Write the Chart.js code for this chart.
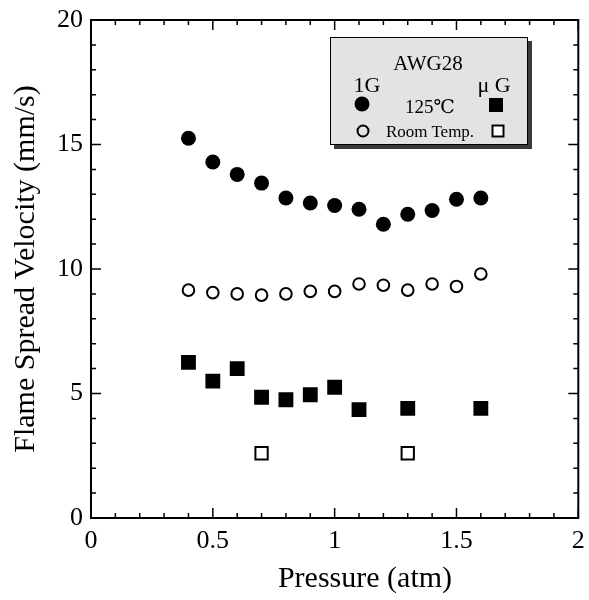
<!DOCTYPE html>
<html>
<head>
<meta charset="utf-8">
<script src="https://cdn.jsdelivr.net/npm/chart.js@4.4.0/dist/chart.umd.min.js"></script>
<style>
body { margin: 0; background: #fff; }
#wrap { position: relative; width: 589px; height: 600px; font-family: "Liberation Serif", "DejaVu Serif", serif; color: #000; }
#chart { position: absolute; left: 0; top: 0; }
.c { position: absolute; transform: translate(-50%, -50%); white-space: nowrap; line-height: 1; }
#xtitle { left: 365px; top: 577px; font-size: 30px; }
#key { position: absolute; left: 330px; top: 37px; width: 198px; height: 108px; box-sizing: border-box;
       border: 1.5px solid #000; background: #e3e3e3; box-shadow: 4px 4px 0 #3a3a3a; }
.dot { position: absolute; transform: translate(-50%, -50%); box-sizing: border-box; }
</style>
</head>
<body>
<div id="wrap">
  <canvas id="chart" width="589" height="600"></canvas>
  <div id="xtitle" class="c">Pressure (atm)</div>
  <div id="key">
    <div class="c" style="left:97px;top:25px;font-size:21px;">AWG28</div>
    <div class="c" style="left:36px;top:47px;font-size:22px;">1G</div>
    <div class="c" style="left:163px;top:47px;font-size:22px;">μ G</div>
    <div class="dot" style="left:31px;top:66px;width:15px;height:15px;border-radius:50%;background:#000;"></div>
    <div class="c" style="left:99px;top:68px;font-size:19px;">125℃</div>
    <div class="dot" style="left:165px;top:67px;width:14px;height:14px;background:#000;"></div>
    <div class="dot" style="left:32px;top:93px;width:13px;height:13px;border-radius:50%;border:2px solid #000;"></div>
    <div class="c" style="left:99px;top:93px;font-size:17px;">Room Temp.</div>
    <div class="dot" style="left:167px;top:93px;width:13px;height:13px;border:2px solid #000;background:#fff;"></div>
  </div>
</div>
<script>
// 1G series, measured at every pressure
const pressure1G = [0.4, 0.5, 0.6, 0.7, 0.8, 0.9, 1.0, 1.1, 1.2, 1.3, 1.4, 1.5, 1.6];
const hot1G = [15.25, 14.3, 13.8, 13.45, 12.85, 12.65, 12.55, 12.4, 11.8, 12.2, 12.35, 12.8, 12.85];
const room1G = [9.15, 9.05, 9.0, 8.95, 9.0, 9.1, 9.1, 9.4, 9.35, 9.15, 9.4, 9.3, 9.8];

// microgravity series
const pressureHotMuG = [0.4, 0.5, 0.6, 0.7, 0.8, 0.9, 1.0, 1.1, 1.3, 1.6];
const hotMuG = [6.25, 5.5, 6.0, 4.85, 4.75, 4.95, 5.25, 4.35, 4.4, 4.4];
const pressureRoomMuG = [0.7, 1.3];
const roomMuG = [2.6, 2.6];

const xMin = 0, xMax = 2, xStep = 0.5, xMinor = 0.1;
const yMin = 0, yMax = 20, yStep = 5, yMinor = 1;

const serif = "'Liberation Serif', 'DejaVu Serif', serif";

function toPoints(xs, ys) {
    return xs.map((p, i) => ({ x: p, y: ys[i] }));
}

// plain numbers: 0, 0.5, 1 ...
function plainLabel(value) {
    return String(parseFloat(Number(value).toFixed(2)));
}

// inward ticks on all four sides plus the frame
const frameTicks = {
    id: 'frameTicks',
    afterDraw(chart) {
        const ctx = chart.ctx;
        const a = chart.chartArea;
        const x = chart.scales.x;
        const y = chart.scales.y;
        ctx.save();
        ctx.strokeStyle = '#000';
        ctx.lineWidth = 1.5;
        ctx.beginPath();
        const nx = Math.round((xMax - xMin) / xMinor);
        for (let i = 0; i <= nx; i++) {
            const px = x.getPixelForValue(xMin + i * xMinor);
            const len = i % Math.round(xStep / xMinor) === 0 ? 10 : 5;
            ctx.moveTo(px, a.bottom); ctx.lineTo(px, a.bottom - len);
            ctx.moveTo(px, a.top); ctx.lineTo(px, a.top + len);
        }
        const ny = Math.round((yMax - yMin) / yMinor);
        for (let i = 0; i <= ny; i++) {
            const py = y.getPixelForValue(yMin + i * yMinor);
            const len = i % Math.round(yStep / yMinor) === 0 ? 10 : 5;
            ctx.moveTo(a.left, py); ctx.lineTo(a.left + len, py);
            ctx.moveTo(a.right, py); ctx.lineTo(a.right - len, py);
        }
        ctx.stroke();
        ctx.lineWidth = 2;
        ctx.strokeRect(a.left, a.top, a.right - a.left, a.bottom - a.top);
        ctx.restore();
    }
};

const ctx = document.getElementById('chart');

const chart = new Chart(ctx, {
    type: 'scatter',
    data: {
        datasets: [
            {
                label: '1G 125℃',
                data: toPoints(pressure1G, hot1G),
                pointStyle: 'circle',
                pointRadius: 7.5,
                pointBorderWidth: 0,
                backgroundColor: '#000',
                borderColor: '#000'
            },
            {
                label: '1G Room Temp.',
                data: toPoints(pressure1G, room1G),
                pointStyle: 'circle',
                pointRadius: 5.8,
                pointBorderWidth: 2,
                backgroundColor: '#fff',
                borderColor: '#000'
            },
            {
                label: 'μG 125℃',
                data: toPoints(pressureHotMuG, hotMuG),
                pointStyle: 'rect',
                pointRadius: 10.5,
                pointBorderWidth: 0,
                backgroundColor: '#000',
                borderColor: '#000'
            },
            {
                label: 'μG Room Temp.',
                data: toPoints(pressureRoomMuG, roomMuG),
                pointStyle: 'rect',
                pointRadius: 8.7,
                pointBorderWidth: 2,
                backgroundColor: '#fff',
                borderColor: '#000'
            }
        ]
    },
    options: {
        responsive: false,
        animation: false,
        devicePixelRatio: 1,
        layout: { padding: { left: 0, top: 20, right: 7, bottom: 0 } },
        plugins: {
            legend: { display: false },
            tooltip: { enabled: false }
        },
        scales: {
            x: {
                type: 'linear',
                min: xMin,
                max: xMax,
                grid: { display: false, drawTicks: false },
                border: { display: false },
                ticks: {
                    stepSize: xStep,
                    color: '#000',
                    padding: 8,
                    maxRotation: 0,
                    font: { family: serif, size: 26 },
                    callback: plainLabel
                },
                afterFit(scale) {
                    scale.height = 82;
                    scale.paddingLeft = 0;
                    scale.paddingRight = 0;
                }
            },
            y: {
                type: 'linear',
                min: yMin,
                max: yMax,
                grid: { display: false, drawTicks: false },
                border: { display: false },
                ticks: {
                    stepSize: yStep,
                    color: '#000',
                    padding: 8,
                    font: { family: serif, size: 26 },
                    callback: plainLabel
                },
                title: {
                    display: true,
                    text: 'Flame Spread Velocity (mm/s)',
                    color: '#000',
                    padding: { top: 8, bottom: 0 },
                    font: { family: serif, size: 30, lineHeight: 1.2 }
                },
                afterFit(scale) {
                    scale.width = 91;
                    scale.paddingTop = 0;
                    scale.paddingBottom = 0;
                }
            }
        }
    },
    plugins: [frameTicks]
});
</script>
</body>
</html>
